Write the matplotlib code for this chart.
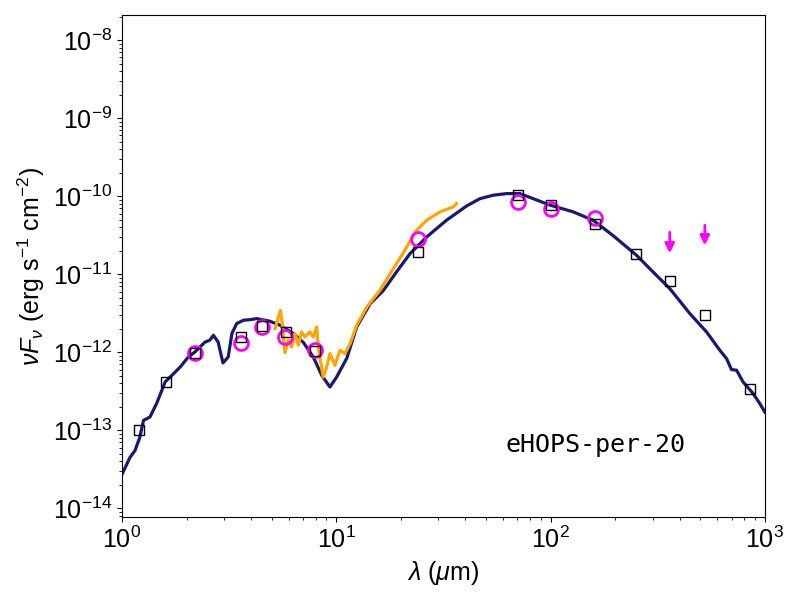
import numpy as np
import matplotlib
matplotlib.use("Agg")
import matplotlib.pyplot as plt

plt.rcParams['font.family'] = ['Liberation Sans', 'DejaVu Sans']
plt.rcParams['mathtext.fontset'] = 'custom'
plt.rcParams['mathtext.rm'] = 'Liberation Sans'
plt.rcParams['mathtext.it'] = 'Liberation Sans:italic'
plt.rcParams['mathtext.bf'] = 'Liberation Sans:bold'

# model SED (um, erg s-1 cm-2)
model_wav = [1.0, 1.09, 1.15, 1.21, 1.26, 1.35, 1.45, 1.59, 1.71, 1.87, 2.04, 2.19,
             2.44, 2.57, 2.67, 2.81, 2.96, 3.13, 3.26, 3.43, 3.68, 3.96, 4.25, 4.9,
             5.46, 6.3, 7.02, 7.81, 8.55, 9.34, 10.04, 11.2, 12.45, 14.4, 16.6, 19.1,
             22.1, 26.4, 32.7, 40.6, 46.8, 54.0, 62.4, 71.9, 83.0, 99.3, 127.6, 158.0,
             196.0, 252.0, 301.0, 360.0, 447.0, 535.0, 617.0, 663.0, 699.0, 738.0,
             792.0, 883.0, 948.0, 1000.0]
model_flux = [2.73e-14, 4.5e-14, 5.5e-14, 8.1e-14, 1.34e-13, 1.48e-13, 2.2e-13, 4.17e-13,
              5.07e-13, 6.48e-13, 8.7e-13, 1.01e-12, 1.35e-12, 1.43e-12, 1.65e-12, 1.35e-12,
              7.3e-13, 8.7e-13, 1.75e-12, 2.33e-12, 2.57e-12, 2.62e-12, 2.7e-12, 2.5e-12,
              2.22e-12, 1.74e-12, 1.34e-12, 8.7e-13, 5.07e-13, 3.59e-13, 4.82e-13, 8.4e-13,
              2.11e-12, 4.2e-12, 6.2e-12, 1.07e-11, 1.84e-11, 3.0e-11, 4.92e-11, 7.5e-11,
              9.3e-11, 1.03e-10, 1.08e-10, 1.08e-10, 9.3e-11, 7.7e-11, 6.3e-11, 4.92e-11,
              3.12e-11, 1.75e-11, 1.07e-11, 6.56e-12, 3.13e-12, 1.82e-12, 1.06e-12, 8.3e-13,
              6.0e-13, 5.9e-13, 4.16e-13, 2.95e-13, 2.2e-13, 1.72e-13]

# IRS spectrum
irs_wav = [5.18, 5.49, 5.62, 5.76, 5.97, 6.19, 6.42, 6.65, 6.89, 7.14, 7.54, 7.81, 8.1,
           8.24, 8.69, 9.02, 9.34, 9.86, 10.4, 10.98, 11.6, 12.45, 13.9, 16.0, 18.45,
           19.8, 21.3, 23.7, 26.4, 30.5, 35.2, 36.4]
irs_flux = [2.01e-12, 3.45e-12, 2.11e-12, 9.9e-13, 1.43e-12, 1.17e-12, 1.74e-12, 1.23e-12,
            1.82e-12, 1.57e-12, 1.82e-12, 1.57e-12, 2.11e-12, 1.17e-12, 4.82e-13, 6.48e-13,
            9.6e-13, 6.8e-13, 1.06e-12, 9.6e-13, 1.29e-12, 2.22e-12, 3.81e-12, 6.24e-12,
            1.18e-11, 1.59e-11, 2.23e-11, 3.66e-11, 4.92e-11, 6.3e-11, 7.3e-11, 8.05e-11]

# photometry
phot_wav = [1.2, 1.6, 2.19, 3.59, 4.5, 5.82, 7.95, 24.0, 70.4, 100.0, 161.0, 250.0,
            360.0, 525.0, 851.0]
phot_flux = [1.02e-13, 4.1e-13, 9.7e-13, 1.56e-12, 2.15e-12, 1.8e-12, 1.03e-12, 1.91e-11,
             1.03e-10, 7.7e-11, 4.38e-11, 1.8e-11, 8.1e-12, 2.98e-12, 3.36e-13]

obs_wav = [2.19, 3.59, 4.5, 5.76, 7.95, 24.0, 70.4, 100.0, 161.0]
obs_flux = [9.7e-13, 1.3e-12, 2.09e-12, 1.56e-12, 1.06e-12, 2.81e-11, 8.4e-11, 6.8e-11, 5.2e-11]

# upper limits
lim_wav = [360.0, 525.0]
lim_flux = [3.45e-11, 4.25e-11]
lim_tip = [1.86e-11, 2.35e-11]

fig = plt.figure(figsize=(8, 6), dpi=100)
ax = fig.add_axes([0.1525, 0.138, 0.8035, 0.837])

ax.plot(model_wav, model_flux, color='midnightblue', lw=2.3, zorder=2)
ax.plot(irs_wav, irs_flux, color='orange', lw=2.3, zorder=3)
ax.plot(obs_wav, obs_flux, 'o', mfc='none', mec='magenta', mew=2, ms=10, zorder=4)
ax.plot(phot_wav, phot_flux, 's', mfc='none', mec='black', mew=1, ms=7, zorder=5)
for w, f, t in zip(lim_wav, lim_flux, lim_tip):
    ax.annotate('', xy=(w, t), xytext=(w, f),
                arrowprops=dict(arrowstyle='-|>', color='magenta', lw=2,
                                mutation_scale=14, shrinkA=0, shrinkB=0))

ax.set_xscale('log')
ax.set_yscale('log')
ax.set_xlim(1, 1000)
ax.set_ylim(7.7e-15, 2.1e-8)
ax.tick_params(labelsize=18)
ax.set_xlabel(r'$\lambda$ ($\mu$m)', fontsize=18)
ax.set_ylabel(r'$\nu F_\nu$ (erg s$^{-1}$ cm$^{-2}$)', fontsize=18)
ax.text(0.596, 0.13, 'eHOPS-per-20', transform=ax.transAxes, fontsize=18,
        family='DejaVu Sans Mono')

fig.savefig('out.png', dpi=100)
